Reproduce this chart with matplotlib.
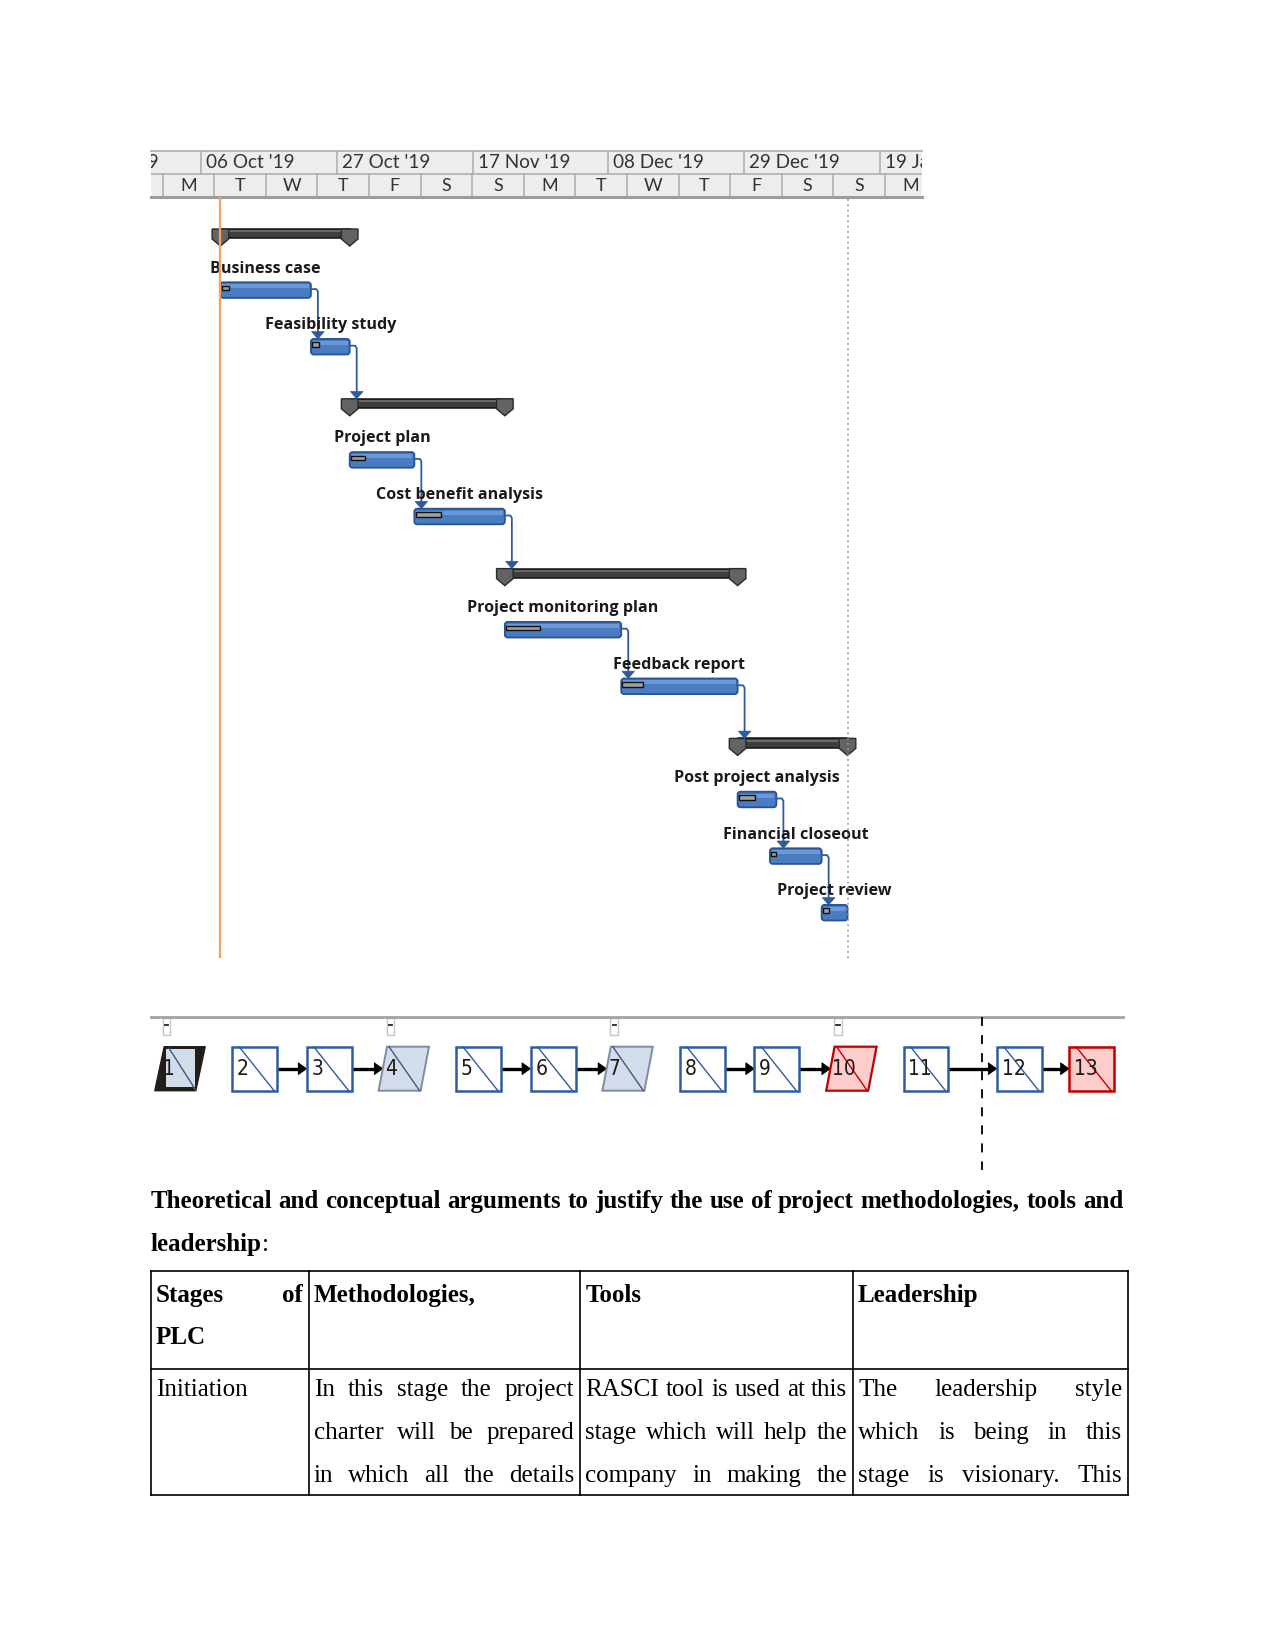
import numpy as np
import matplotlib
matplotlib.use('Agg')
import matplotlib.pyplot as plt
from matplotlib.patches import Rectangle, Polygon, FancyBboxPatch

W, H = 1275, 1651

# ---------------- Gantt data (days counted from 06 Oct 2019) ----------------
task_names = ['Business case', 'Feasibility study', 'Project plan',
              'Cost benefit analysis', 'Project monitoring plan',
              'Feedback report', 'Post project analysis',
              'Financial closeout', 'Project review']
task_start = [3, 17, 23, 33, 47, 65, 83, 88, 96]
task_end = [17, 23, 33, 47, 65, 83, 89, 96, 100]
task_done = [1.3, 1.3, 2.3, 4.1, 5.5, 3.3, 2.7, 1.0, 1.1]
task_row = [1, 2, 4, 5, 7, 8, 10, 11, 12]

summary_start = [3, 23, 47, 83]
summary_end = [23, 47, 83, 100]
summary_row = [0, 3, 6, 9]

# predecessor task -> successor (kind, index)
gantt_links = [(0, 'task', 1), (1, 'summary', 1), (2, 'task', 3),
               (3, 'summary', 2), (4, 'task', 5), (5, 'summary', 3),
               (6, 'task', 7), (7, 'task', 8)]

status_day = 3
finish_day = 100

major_days = [-21, 0, 21, 42, 63, 84, 105]
major_labels = ["15 Sep '19", "06 Oct '19", "27 Oct '19", "17 Nov '19",
                "08 Dec '19", "29 Dec '19", "19 Jan '20"]
minor_labels = ['M', 'T', 'W', 'T', 'F', 'S', 'S', 'M', 'T', 'W', 'T', 'F',
                'S', 'S', 'M']
minor_first = -5.92
minor_step = 7.98

# ---------------- network diagram data ----------------
node_ids = list(range(1, 14))
node_slot = [0, 1, 2, 3, 4, 5, 6, 7, 8, 9, 10, 11.25, 12.22]
node_kind = ['project', 'task', 'task', 'summary', 'task', 'task', 'summary',
             'task', 'task', 'crit_summary', 'task', 'task', 'crit_task']
net_links = [(2, 3), (3, 4), (5, 6), (6, 7), (8, 9), (9, 10), (11, 12), (12, 13)]
page_marks = [-0.18, 2.82, 5.82, 8.82]
net_divider = 10.755

# ---------------- text / table ----------------
heading_line1 = "Theoretical and conceptual arguments to justify the use of project methodologies, tools and"
heading_line2 = "leadership"
header_cells = [["Stages of", "PLC"], ["Methodologies,"], ["Tools"], ["Leadership"]]
body_cells = [["Initiation"],
              ["In this stage the project", "charter will be prepared",
               "in which all the details"],
              ["RASCI tool is used at this", "stage which will help the",
               "company in making the"],
              ["The leadership style", "which is being in this",
               "stage is visionary. This"]]
body_continues = [False, True, True, True]

# =====================================================================
fig = plt.figure(figsize=(W / 100, H / 100), dpi=100)
fig.patch.set_facecolor('white')

ax_p = fig.add_axes([0, 0, 1, 1])
ax_p.set_xlim(0, W)
ax_p.set_ylim(H, 0)
ax_p.axis('off')

# ---- gantt geometry
PXD = 6.465          # px per day
DAY0 = 201.0         # px of day 0
ROWPX = 56.6         # px per row
ROW0 = 233.5         # px of row 0
GL, GR, GT, GB = 150.5, 922.3, 197.0, 958.0
X0 = (GL - DAY0) / PXD
X1 = (GR - DAY0) / PXD


def dx(px):
    return px / PXD


def dy(px):
    return px / ROWPX


ax_h = fig.add_axes([GL / W, 1 - GT / H, (GR - GL) / W, (GT - 150.5) / H])
ax_h.set_xlim(X0, X1)
ax_h.set_ylim(0, 2)
ax_h.axis('off')
ax_h.add_patch(Rectangle((X0, 0), X1 - X0, 2, fc='#EDEDED', ec='none'))
hdr_font = dict(family=['Lato', 'DejaVu Sans'], color='#333333')
for d, lab in zip(major_days, major_labels):
    ax_h.plot([d, d], [1, 2], color='#ABABAB', lw=1.1)
    ax_h.text(d + dx(5), 1.47, lab, ha='left', va='center', clip_on=True,
              fontsize=13.6, **hdr_font)
minor_edges = minor_first + minor_step * np.arange(len(minor_labels) + 1)
for d in minor_edges:
    ax_h.plot([d, d], [0, 1], color='#ABABAB', lw=1.1)
for k, lab in enumerate(minor_labels):
    ax_h.text(minor_edges[k] + minor_step / 2, 0.46, lab, ha='center', va='center',
              clip_on=True, fontsize=13, **hdr_font)
ax_h.plot([X0, X1], [1, 1], color='#ABABAB', lw=1.1)
ax_h.plot([X0, X1], [1.98, 1.98], color='#ABABAB', lw=1.2, clip_on=False)
ax_h.plot([X0, X1], [0.02, 0.02], color='#9C9C9C', lw=2.2, clip_on=False)

ax_g = fig.add_axes([GL / W, 1 - GB / H, (GR - GL) / W, (GB - GT) / H])
ax_g.set_xlim(X0, X1)
ax_g.set_ylim((GB - ROW0) / ROWPX, (GT - ROW0) / ROWPX)
ax_g.axis('off')

BAR_H = dy(15.6)
BLUE = '#4A7CC2'
BLUE_EDGE = '#2A5290'
LINK = '#2F5B9C'

# summaries
for s, e, r in zip(summary_start, summary_end, summary_row):
    ax_g.add_patch(Rectangle((s, r - dy(4.5)), e - s, dy(9.5), fc='#3E3E3E',
                             ec='#111111', lw=1.1, zorder=3))
    ax_g.add_patch(Rectangle((s, r - dy(3.3)), e - s, dy(2.0), fc='#686868',
                             ec='none', zorder=3.1))
    for c in (s, e):
        hw = dx(8.3)
        ax_g.add_patch(Polygon([(c - hw, r - dy(4.5)), (c + hw, r - dy(4.5)),
                                (c + hw, r + dy(5.5)), (c, r + dy(12.5)),
                                (c - hw, r + dy(5.5))], closed=True,
                               fc='#636363', ec='#2A2A2A', lw=1.0, zorder=3.5))

# tasks
for name, s, e, done, r in zip(task_names, task_start, task_end, task_done, task_row):
    ax_g.add_patch(FancyBboxPatch((s, r - BAR_H / 2), e - s, BAR_H,
                                  boxstyle='round,pad=0,rounding_size=0.45',
                                  mutation_aspect=PXD / ROWPX,
                                  fc=BLUE, ec=BLUE_EDGE, lw=1.3, zorder=3))
    ax_g.add_patch(Rectangle((s + dx(2), r - BAR_H / 2 + dy(2)), e - s - dx(4),
                             dy(4), fc='#6B98D6', ec='none', zorder=3.2))
    ax_g.add_patch(Rectangle((s + dx(1.2), r - dy(4.2)), done - dx(1.2), dy(4.6),
                             fc='#A0A0A0', ec='#111111', lw=1.0, zorder=3.4))
    ax_g.text((s + e) / 2, r - dy(21.5), name, ha='center', va='center',
              fontsize=11.6, fontweight='bold', family=['Open Sans', 'DejaVu Sans'],
              color='#1A1A1A', zorder=5)

# links
for src, kind, tgt in gantt_links:
    e = task_end[src]
    r0 = task_row[src]
    if kind == 'task':
        top = task_row[tgt] - BAR_H / 2
    else:
        top = summary_row[tgt] - dy(4.5)
    xv = e + dx(7)
    ah = dy(7.3)
    ax_g.plot([e, xv - dx(1.5), xv, xv], [r0 - dy(1), r0 - dy(1), r0 + dy(1.5), top - ah + dy(1)],
              color=LINK, lw=1.3, zorder=4, solid_joinstyle='round')
    ax_g.add_patch(Polygon([(xv - dx(6.3), top - ah), (xv + dx(6.3), top - ah), (xv, top)],
                           closed=True, fc=LINK, ec=LINK, lw=0.5, zorder=4.5))

ax_g.axvline(status_day, color='#F4A261', lw=1.7, zorder=6)
ax_g.axvline(finish_day, color='#9A9A9A', lw=1.2, ls=(0, (1, 2.2)), zorder=6)

# ---- network diagram
SLOT = 74.6
NL, NR, NT, NB = 150.0, 1125.0, 1010.0, 1175.0
ax_n = fig.add_axes([NL / W, 1 - NB / H, (NR - NL) / W, (NB - NT) / H])
ax_n.set_xlim((NL - 180) / SLOT, (NR - 180) / SLOT)
ax_n.set_ylim(NB, NT)
ax_n.axis('off')


def sx(px):
    return px / SLOT


YT, YB = 1046.7, 1090.7
YM = (YT + YB) / 2

ax_n.plot([(NL - 180) / SLOT, (NR - 180) / SLOT], [1016.7, 1016.7], color='#A3A3A3', lw=2)
for m in page_marks:
    ax_n.add_patch(Rectangle((m - sx(3.7), 1018), sx(7.4), 17, fc='white',
                             ec='#C6C6C6', lw=1))
    ax_n.plot([m - sx(1.6), m + sx(1.6)], [1025, 1025], color='#222222', lw=1.3)
ax_n.plot([net_divider, net_divider], [1016.7, 1170], color='black', lw=1.3,
          ls=(0, (5, 5)))

styles = {
    'task': ('white', '#2D5DA1', 1.8, '#2D5DA1'),
    'summary': ('#D3DCEA', '#7E8CA0', 1.4, '#3C5A85'),
    'crit_summary': ('#FFCCCC', '#C00000', 1.6, '#C00000'),
    'crit_task': ('#FFCCCC', '#C00000', 1.8, '#C00000'),
}
num_font = dict(fontsize=15, family=['Liberation Sans Narrow', 'DejaVu Sans'],
                fontstretch='condensed', color='#1A1A1A')
half_w = {}
for nid, c, kind in zip(node_ids, node_slot, node_kind):
    if kind in ('task', 'crit_task'):
        fc, ec, lw, dc = styles[kind]
        l, r = c - sx(22.5), c + sx(22.5)
        ax_n.add_patch(Rectangle((l, YT), r - l, YB - YT, fc=fc, ec=ec, lw=lw, zorder=3))
        ax_n.plot([l + sx(7), r - sx(3)], [YT, YB], color=dc, lw=1.0, zorder=4)
        half_w[nid] = sx(22.5)
        tx = l + sx(5)
    elif kind == 'project':
        hw, sk = sx(20.5), sx(4.7)
        ax_n.add_patch(Polygon([(c - hw + sk, YT), (c + hw + sk, YT),
                                (c + hw - sk, YB), (c - hw - sk, YB)], closed=True,
                               fc='#231D17', ec='#231D17', lw=1, zorder=3))
        ax_n.add_patch(Rectangle((c - sx(14.4), YT + 2.5), sx(29), YB - YT - 6,
                                 fc='#D3DCEA', ec='none', zorder=3.5))
        ax_n.plot([c - sx(11), c + sx(15.5)], [YT + 1.5, YB - 1], color='#3C5A85',
                  lw=1.0, zorder=4)
        half_w[nid] = hw
        tx = c - sx(17)
    else:
        fc, ec, lw, dc = styles[kind]
        hw, sk = sx(21), sx(4.2)
        ax_n.add_patch(Polygon([(c - hw + sk, YT), (c + hw + sk, YT),
                                (c + hw - sk, YB), (c - hw - sk, YB)], closed=True,
                               fc=fc, ec=ec, lw=lw, zorder=3))
        ax_n.plot([c - hw + sk + sx(2), c + hw - sk - sx(1)], [YT, YB], color=dc,
                  lw=1.0, zorder=4)
        half_w[nid] = hw
        tx = c - hw + sx(2)
    ax_n.text(tx, YM, str(nid), ha='left', va='center', zorder=5, **num_font)

for a, b in net_links:
    x_start = node_slot[a - 1] + half_w[a]
    x_end = node_slot[b - 1] - half_w[b]
    ax_n.plot([x_start, x_end - sx(6)], [YM, YM], color='black', lw=2.4, zorder=2,
              solid_capstyle='butt')
    ax_n.add_patch(Polygon([(x_end - sx(8.5), YM - 6), (x_end, YM), (x_end - sx(8.5), YM + 6)],
                           closed=True, fc='black', ec='black', lw=0.5, zorder=2.5))

# ---- heading and table
fig.canvas.draw()
rend = fig.canvas.get_renderer()
serif = ['Liberation Serif', 'DejaVu Serif']


def text_width(s, kw):
    t = ax_p.text(0, 0, s, **kw)
    w = t.get_window_extent(rend).width
    t.remove()
    return w


def put_line(text, x0, x1, y, justify, bold=False):
    words = text.split()
    kw = dict(va='baseline', ha='left', fontsize=18, family=serif, color='black',
              fontweight='bold' if bold else 'normal')
    ts = [ax_p.text(x0, y, w, **kw) for w in words]
    widths = [t.get_window_extent(rend).width for t in ts]
    if not justify or len(words) < 2:
        sp = text_width('a a', kw) - 2 * text_width('a', kw)
        x = x0
        for t, w in zip(ts, widths):
            t.set_x(x)
            x += w + sp
        return x - sp
    gap = (x1 - x0 - sum(widths)) / (len(words) - 1)
    x = x0
    for t, w in zip(ts, widths):
        t.set_x(x)
        x += w + gap
    return x1


put_line(heading_line1, 150.5, 1123.0, 1208, True, bold=True)
xe = put_line(heading_line2, 150.5, 1123.0, 1251, False, bold=True)
ax_p.text(xe, 1251, ':', va='baseline', ha='left', fontsize=18, family=serif)

col_x = [150.5, 308.5, 580.0, 852.8, 1127.5]
row_y = [1270.7, 1368.6, 1495.0]
for x in col_x:
    ax_p.plot([x, x], [row_y[0], row_y[-1]], color='black', lw=1.2)
for y in row_y:
    ax_p.plot([col_x[0], col_x[-1]], [y, y], color='black', lw=1.2)

for j, lines in enumerate(header_cells):
    for i, line in enumerate(lines):
        put_line(line, col_x[j] + 5.3, col_x[j + 1] - 5.5, 1302 + 42.5 * i,
                 i < len(lines) - 1, bold=True)
for j, lines in enumerate(body_cells):
    for i, line in enumerate(lines):
        put_line(line, col_x[j] + 5.3, col_x[j + 1] - 5.5, 1396 + 43 * i,
                 body_continues[j] or i < len(lines) - 1)

fig.savefig('out.png', dpi=100, facecolor='white')
